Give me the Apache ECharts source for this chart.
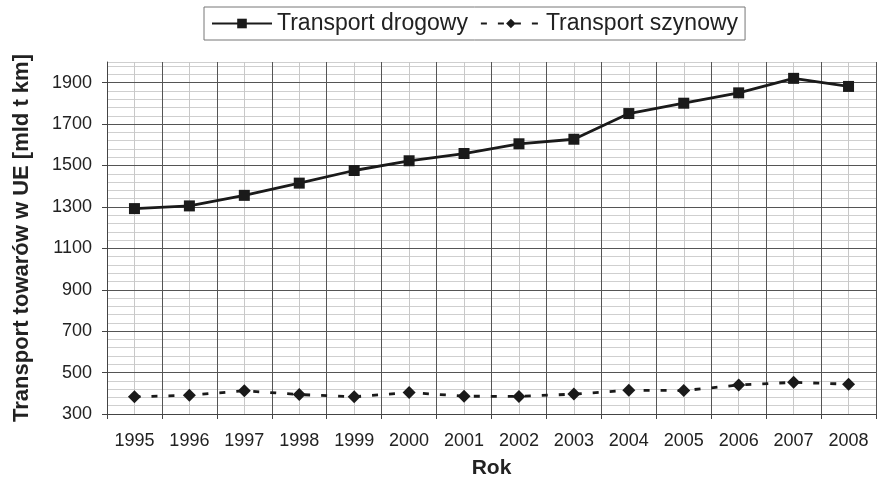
<!DOCTYPE html>
<html><head><meta charset="utf-8">
<script src="https://cdn.jsdelivr.net/npm/echarts@6/dist/echarts.min.js"></script>
<style>html,body{margin:0;padding:0;background:#fff}#c{width:880px;height:481px}</style>
</head><body><div id="c"></div>
<script>
var years = ['1995','1996','1997','1998','1999','2000','2001','2002','2003','2004','2005','2006','2007','2008'];
var roadValues = [1292,1305,1356,1415,1476,1523,1558,1605,1627,1751,1801,1851,1921,1882];
var railValues = [383,391,412,394,383,404,386,385,396,415,413,440,453,444];
var halfCats = [];
for (var i = 0; i < years.length * 2; i++) halfCats.push('h' + i);
var yMin = 300, yMax = 2000, yStep = 200, yMinorStep = 40;

var majorColors = [];
for (var t = yMin; t < yMax; t += yStep) majorColors.push('#555');
majorColors.push('rgba(0,0,0,0)');

var chart = echarts.init(document.getElementById('c'));
var font = 'Liberation Sans, Arial, sans-serif';
chart.setOption({
  backgroundColor: '#fff',
  animation: false,
  textStyle: {fontFamily: font},
  legend: {
    top: 7, left: 204,
    borderColor: '#777', borderWidth: 1, padding: [5, 7, 5, 7],
    itemWidth: 60, itemHeight: 12, itemGap: 12,
    textStyle: {fontSize: 23, color: '#222', fontFamily: font},
    data: ['Transport drogowy', 'Transport szynowy']
  },
  grid: {left: 107, right: 4, top: 62, bottom: 67, containLabel: false, outerBoundsMode: 'none'},
  xAxis: [{
    type: 'category', data: years, boundaryGap: true,
    axisLine: {show: true, lineStyle: {color: '#444', width: 1}},
    axisTick: {show: true, length: 5, lineStyle: {color: '#444'}},
    axisLabel: {fontSize: 18, color: '#222', margin: 18},
    splitLine: {show: true, lineStyle: {color: '#555', width: 1}},
    name: 'Rok', nameLocation: 'middle', nameGap: 44,
    nameTextStyle: {fontSize: 21, fontWeight: 'bold', color: '#222'},
    z: 3
  }, {
    type: 'category', data: halfCats, boundaryGap: true, position: 'bottom',
    axisLine: {show: false}, axisTick: {show: false}, axisLabel: {show: false},
    splitLine: {show: true, interval: function (idx) { return idx % 2 === 1; },
      lineStyle: {color: '#c8c8c8', width: 1}},
    z: 1
  }],
  yAxis: [{
    type: 'value', min: yMin, max: yMax, interval: yStep,
    axisLine: {show: true, lineStyle: {color: '#444'}},
    axisTick: {show: true, length: 5, lineStyle: {color: '#444'}},
    axisLabel: {fontSize: 18, color: '#222', margin: 15, showMaxLabel: false,
      formatter: function (v) { return v === yMax ? '' : v; }},
    splitLine: {show: true, lineStyle: {color: majorColors, width: 1}},
    name: 'Transport towarów w UE [mld t km]', nameLocation: 'middle', nameGap: 74,
    nameTextStyle: {fontSize: 22, fontWeight: 'bold', color: '#222'},
    z: 3
  }, {
    type: 'value', min: yMin, max: yMax, interval: yMinorStep, position: 'left',
    axisLine: {show: false}, axisTick: {show: false}, axisLabel: {show: false},
    splitLine: {show: true, lineStyle: {color: '#cfcfcf', width: 1}},
    z: 1
  }],
  series: [{
    name: 'Transport drogowy', type: 'line', data: roadValues,
    xAxisIndex: 0, yAxisIndex: 0,
    symbol: 'rect', symbolSize: 11,
    lineStyle: {color: '#1a1a1a', width: 2.8},
    itemStyle: {color: '#1a1a1a'}, z: 5
  }, {
    name: 'Transport szynowy', type: 'line', data: railValues,
    xAxisIndex: 0, yAxisIndex: 0,
    symbol: 'diamond', symbolSize: 13,
    lineStyle: {color: '#1a1a1a', width: 2.8, type: [6, 11]},
    itemStyle: {color: '#1a1a1a'}, z: 5
  }]
});
</script></body></html>
